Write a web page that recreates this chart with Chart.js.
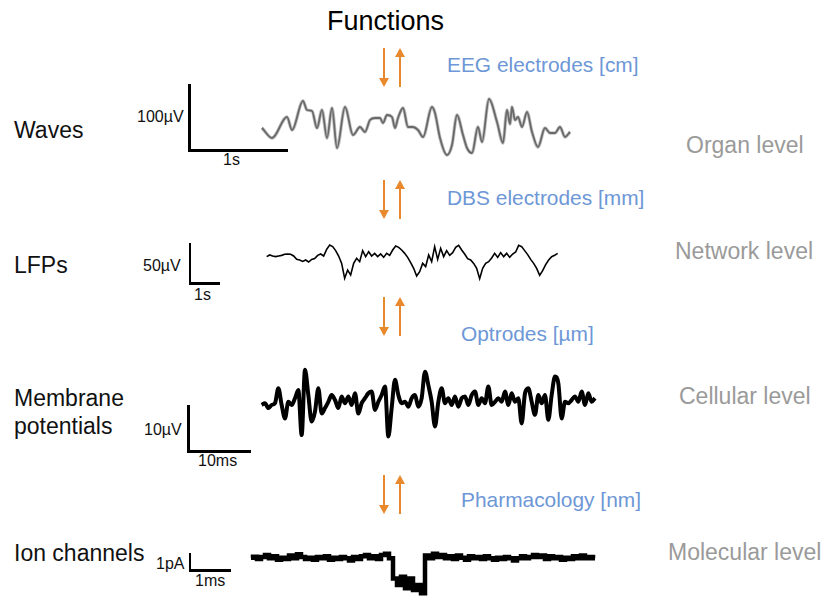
<!DOCTYPE html>
<html>
<head>
<meta charset="utf-8">
<title>Recording scales</title>
<script src="https://cdn.jsdelivr.net/npm/chart.js@4.4.1/dist/chart.umd.min.js"></script>
<style>
  body {
    margin: 0;
    width: 825px;
    height: 597px;
    position: relative;
    overflow: hidden;
    background: #fff;
    font-family: "Liberation Sans", Arial, sans-serif;
  }
  .txt { position: absolute; line-height: 1; white-space: nowrap; }
  .title { font-size: 27px; color: #000; }
  .row { font-size: 23px; color: #111; }
  .method { font-size: 20.9px; color: #6d97d6; }
  .level { font-size: 23px; color: #9a9a9a; }
  .bar-label { font-size: 16px; color: #111; }
  .bar { position: absolute; background: #000; }
  .shaft { position: absolute; width: 2px; background: #e8892d; }
  .head-down, .head-up {
    position: absolute; width: 0; height: 0;
    border-left: 5px solid transparent; border-right: 5px solid transparent;
  }
  .head-down { border-top: 9px solid #e8892d; }
  .head-up { border-bottom: 9px solid #e8892d; }
</style>
</head>
<body>
<script>
// EEG, organ level: time (ms) / amplitude (µV)
const waveTimes = [10, 110, 260, 310, 420, 460, 510, 560, 610, 660, 710, 760, 840, 920, 990,
  1040, 1090, 1140, 1190, 1220, 1260, 1310, 1340, 1370, 1420, 1470, 1520, 1570, 1620, 1710,
  1740, 1790, 1860, 1910, 1960, 2020, 2060, 2110, 2170, 2210, 2280, 2360, 2420, 2460, 2490,
  2510, 2540, 2570, 2610, 2660, 2710, 2770, 2840, 2890, 2940, 2990, 3040, 3090];
const waveValues = [-1.5, -16.5, 15, -4.5, 39, 25.5, 24, -1.5, 25.5, -16.5, 28.5, -31.5, 30, -12, 0,
  -7.5, 10.5, 13.5, 13.5, 6, 18, 15, -1.5, 13.5, 28.5, 0, 0, -4.5, -15, 30,
  21, -16.5, -42, -27, 18, -12, -31.5, -39, 0, -22.5, 42, 7.5, -24, 25.5, 4.5,
  30, 10.5, 15, 0, 22.5, -7.5, -30, -1.5, -9, -9, 0, -15, -7.5];

// LFP, network level: one sample every 0.1 s (µV)
const lfpStep = 0.1;
const lfpValues = [1.7, 3.8, 2.5, 1.7, 2.5, 3.3, 4.6, 5, 4.6, 2.5,
  -1.7, -2.5, -4.2, -2.5, -5, -1.7, -0.8, 3.3, 5, 2.5,
  10.8, 16.3, 14.2, 9.2, 2.5, -6.7, -25.4, -15, -21.3, -6.7,
  -0.4, -4.6, 9.2, 1.7, 7.9, 2.5, 5.8, 1.7, 5, 0.8,
  5.8, 3.3, 10, 15, 13.3, 10, 5.8, 0.8, -5.8, -12.9,
  -22.5, -17.1, -6.7, -10.8, 3.8, -4.6, 14.2, -1.7, 12.1, 1.7,
  9.2, 3.3, 6.7, 13.3, 15.8, 10, 5, -0.8, -2.5, -6.7,
  -12.9, -25.8, -12.9, -6.7, -4.6, 0, 5.8, 0.8, 6.7, 1.7,
  5.8, 0.8, 5, 7.5, 15.8, 14.2, 9.2, 4.2, -1.7, -6.7,
  -12.9, -21.7, -15.8, -8.3, -2.5, 1.7, 3.3, 5.8];

// Membrane potential, cellular level: one sample every 0.53 ms (µV)
const membraneStep = 0.53;
const membraneValues = [0, 0.4, -0.7, 0, 0.4, 3.7, 0, -3.0, 0.7, 0,
  1.5, 3.3, -6.7, 7.8, 2.2, -3.7, -1.5, 3.7, -1.9, -0.7,
  0.7, 2.2, 1.1, -0.7, 1.9, 0.4, 1.9, 0, 2.6, -1.9,
  0.4, 1.5, 2.6, 3.0, -1.1, 0.7, 2.2, 4.1, -7.0, -0.7,
  5.6, 2.2, 0.4, 0.7, -0.4, 1.5, 2.2, -0.4, 1.5, 7.4,
  4.4, 0.7, -4.8, 0.7, 3.7, 0.4, 1.5, 0, 1.9, -0.4,
  1.5, 1.9, 0, 2.2, 3.0, 0, 1.5, 0.4, 4.1, 0,
  0.7, 1.5, 0.7, 3.0, 0, 2.6, 0.7, 1.5, -4.1, 2.6,
  3.7, 0.7, -2.2, 2.2, 0.4, 2.2, -3.3, 2.2, 6.3, 4.8,
  -3.0, 0.7, 0.4, 1.1, 1.9, 0.7, 3.0, 0, 2.6, 0.7,
  1.5];

// Single channel current, molecular level: one sample every 0.1 ms (pA)
const channelStep = 0.1;
const channelValues = [0.02, 0.08, -0.06, 0.06, 0.18, -0.02, 0.1, -0.1, 0.02, -0.06,
  0.14, -0.02, 0.22, 0.06, -0.06, 0.02, -0.1, 0.06, -0.02, 0.1,
  -0.1, 0.02, -0.06, 0.06, -0.02, -0.14, 0.06, -0.06, 0.1, 0.18,
  -0.02, 0.1, -0.06, 0.18, 0.25, -0.02, -1.2, -1.59, -1.1, -1.78,
  -1.2, -1.88, -1.59, -2.08, 0.14, -0.02, 0.25, 0.06, 0.18, -0.02,
  0.1, -0.06, 0.14, 0.02, -0.1, 0.1, -0.02, 0.06, -0.06, 0.1,
  -0.02, -0.1, 0.02, -0.06, 0.06, -0.02, -0.14, -0.02, 0.1, -0.02,
  0.06, 0.18, 0.06, 0.14, -0.06, 0.1, -0.02, 0.06, -0.1, 0.02,
  -0.06, 0.1, -0.02, 0.14, -0.02, 0.06, -0.02];

const rowLabels = ['Waves', 'LFPs', 'Membrane\npotentials', 'Ion channels'];
const methodLabels = ['EEG electrodes [cm]', 'DBS electrodes [mm]', 'Optrodes [µm]', 'Pharmacology [nm]'];
const levelLabels = ['Organ level', 'Network level', 'Cellular level', 'Molecular level'];
const ampLabels = ['100µV', '50µV', '10µV', '1pA'];
const timeLabels = ['1s', '1s', '10ms', '1ms'];

function addText(cls, text, x, y) {
  const el = document.createElement('div');
  el.className = 'txt ' + cls;
  el.textContent = text;
  el.style.left = x + 'px';
  el.style.top = y + 'px';
  document.body.appendChild(el);
  return el;
}

function addBox(cls, x, y, w, h) {
  const el = document.createElement('div');
  el.className = cls;
  el.style.left = x + 'px';
  el.style.top = y + 'px';
  if (w != null) el.style.width = w + 'px';
  if (h != null) el.style.height = h + 'px';
  document.body.appendChild(el);
}

// pair of orange arrows (down, up) starting at y
function addArrows(y) {
  addBox('shaft', 383, y, 2, 31);
  addBox('head-down', 379, y + 30);
  addBox('shaft', 399, y + 8, 2, 31);
  addBox('head-up', 395, y);
}

// L-shaped scale bar: corner at (x, y)
function addScaleBar(x, y, h, w) {
  addBox('bar', x - 1, y - h, 2.5, h + 1);
  addBox('bar', x - 1, y - 1, w + 1, 2.5);
}

function drawTrace(box, points, xRange, yRange, line) {
  const canvas = document.createElement('canvas');
  canvas.width = box.w;
  canvas.height = box.h;
  canvas.style.cssText = 'position:absolute;left:' + box.x + 'px;top:' + box.y + 'px;';
  document.body.appendChild(canvas);
  const sets = Array.isArray(line) ? line : [line];
  return new Chart(canvas, {
    type: 'line',
    data: {
      datasets: sets.map(s => Object.assign({ data: points, pointRadius: 0, fill: false }, s))
    },
    options: {
      responsive: false,
      animation: false,
      events: [],
      layout: { padding: 0 },
      plugins: { legend: { display: false }, tooltip: { enabled: false } },
      scales: {
        x: { type: 'linear', display: false, min: xRange[0], max: xRange[1] },
        y: { type: 'linear', display: false, min: yRange[0], max: yRange[1] }
      }
    }
  });
}

const sampled = (values, step) => values.map((v, i) => ({ x: i * step, y: v }));

addText('title', 'Functions', 327, 8);

[48, 180, 297, 475].forEach(addArrows);

const methodPos = [[447, 55], [447, 188], [461, 324], [461, 490]];
methodLabels.forEach((t, i) => addText('method', t, methodPos[i][0], methodPos[i][1]));

const levelPos = [[686, 134], [675, 240], [679, 385], [668, 541]];
levelLabels.forEach((t, i) => addText('level', t, levelPos[i][0], levelPos[i][1]));

const rowPos = [[14, 119], [14, 254], [14, 387], [14, 542]];
rowLabels.forEach((t, i) => {
  t.split('\n').forEach((part, k) => addText('row', part, rowPos[i][0], rowPos[i][1] + k * 28));
});

// scale bars with their labels
addScaleBar(189, 150, 66, 99);
addText('bar-label', ampLabels[0], 137, 109);
addText('bar-label', timeLabels[0], 223, 152);

addScaleBar(189.5, 283, 40, 30);
addText('bar-label', ampLabels[1], 143, 258);
addText('bar-label', timeLabels[1], 194, 287);

addScaleBar(188, 451, 46, 63);
addText('bar-label', ampLabels[2], 144, 422);
addText('bar-label', timeLabels[2], 198, 453);

addScaleBar(189.5, 570, 17, 41);
addText('bar-label', ampLabels[3], 156, 556);
addText('bar-label', timeLabels[3], 195, 573);

// traces
drawTrace({ x: 255, y: 85, w: 325, h: 80 },
  waveTimes.map((t, i) => ({ x: t, y: waveValues[i] })),
  [-60, 3190], [-57, 63],
  [
    { borderColor: 'rgba(150,150,150,0.6)', borderWidth: 3.4, cubicInterpolationMode: 'monotone' },
    { borderColor: '#262626', borderWidth: 1.8, cubicInterpolationMode: 'monotone' }
  ]);

drawTrace({ x: 260, y: 230, w: 300, h: 60 },
  sampled(lfpValues, lfpStep),
  [-0.222, 9.778], [-40, 35],
  { borderColor: '#000', borderWidth: 1.6, tension: 0 });

drawTrace({ x: 255, y: 355, w: 350, h: 90 },
  sampled(membraneValues, membraneStep),
  [-1.06, 54.59], [-8.9, 11.1],
  { borderColor: '#000', borderWidth: 4, cubicInterpolationMode: 'monotone' });

drawTrace({ x: 245, y: 535, w: 360, h: 62 },
  sampled(channelValues, channelStep),
  [-0.15, 8.85], [-2.294, 1.353],
  { borderColor: '#000', borderWidth: 4.5, stepped: 'middle' });
</script>
</body>
</html>
